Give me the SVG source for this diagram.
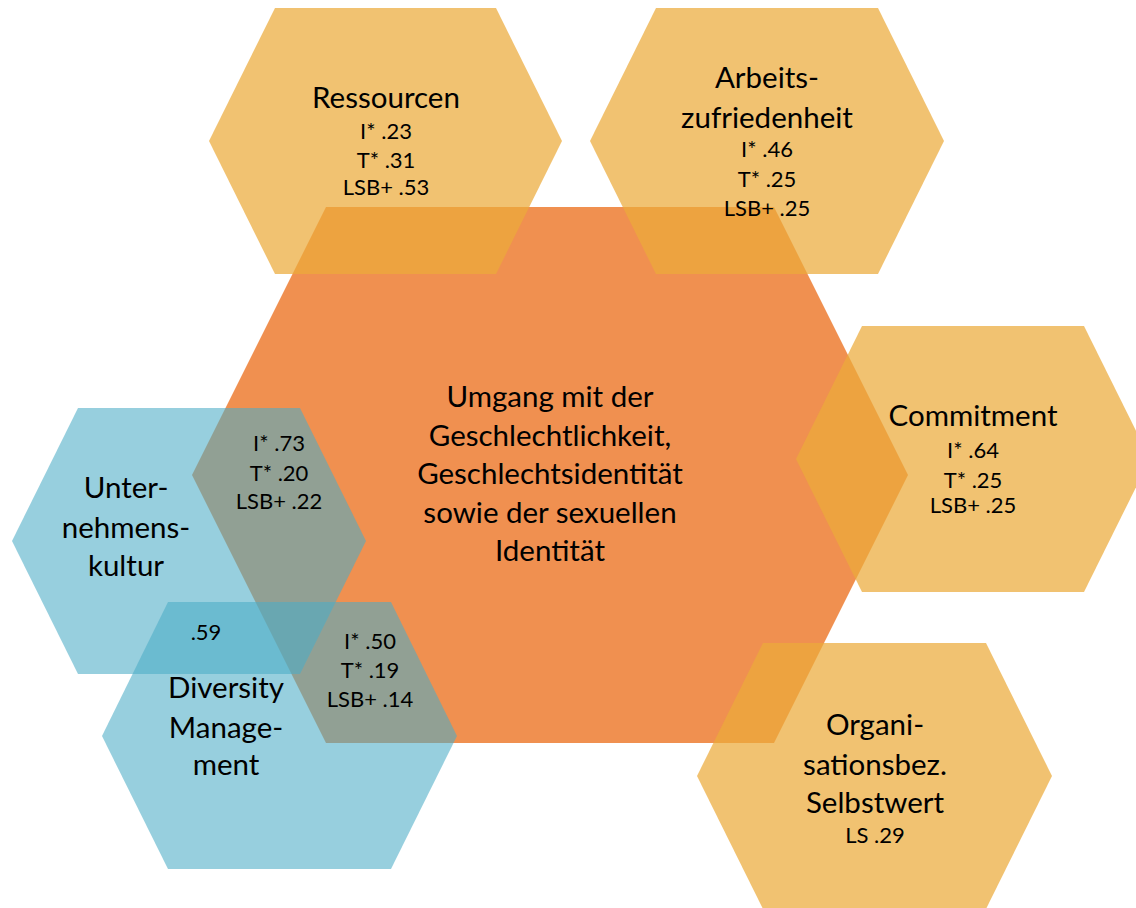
<svg xmlns="http://www.w3.org/2000/svg" width="1136" height="908" viewBox="0 0 1136 908">
  <style>
    .core { fill: #ED7D31; fill-opacity: 0.85; }
    .outcome { fill: rgb(236,171,58); fill-opacity: 0.72; }
    .context { fill: #4BACC6; fill-opacity: 0.58; }
    text { font-family: Lato, "Open Sans", "Liberation Sans", sans-serif; fill: #000; text-anchor: middle; }
    .big { font-size: 29.5px; }
    .small { font-size: 22px; }
  </style>
  <rect width="1136" height="908" fill="#fff"/>

  <g id="node-umgang">
    <polygon class="core" points="192,475 326,207 774,207 908,475 774,743 326,743"/>
    <text class="big" x="550" y="407">Umgang mit der</text>
    <text class="big" x="550" y="446">Geschlechtlichkeit,</text>
    <text class="big" x="550" y="484">Geschlechtsidentität</text>
    <text class="big" x="550" y="523">sowie der sexuellen</text>
    <text class="big" x="550" y="561">Identität</text>
  </g>

  <g id="node-ressourcen">
    <polygon class="outcome" points="209,141 275,8 496,8 562,141 496,274 275,274"/>
    <text class="big" x="386" y="108">Ressourcen</text>
    <text class="small" x="386" y="139">I* .23</text>
    <text class="small" x="386" y="168">T* .31</text>
    <text class="small" x="386" y="195">LSB+ .53</text>
  </g>

  <g id="node-arbeitszufriedenheit">
    <polygon class="outcome" points="590,141 656,8 878,8 944,141 878,274 656,274"/>
    <text class="big" x="767" y="88">Arbeits-</text>
    <text class="big" x="767" y="128">zufriedenheit</text>
    <text class="small" x="767" y="157">I* .46</text>
    <text class="small" x="767" y="187">T* .25</text>
    <text class="small" x="767" y="216">LSB+ .25</text>
  </g>

  <g id="node-commitment">
    <polygon class="outcome" points="796,459 862,326 1084,326 1150,459 1084,592 862,592"/>
    <text class="big" x="973" y="426">Commitment</text>
    <text class="small" x="973" y="458">I* .64</text>
    <text class="small" x="973" y="488">T* .25</text>
    <text class="small" x="973" y="513">LSB+ .25</text>
  </g>

  <g id="node-selbstwert">
    <polygon class="outcome" points="697,776 763,643 986,643 1052,776 986,909 763,909"/>
    <text class="big" x="875" y="735">Organi-</text>
    <text class="big" x="875" y="775">sationsbez.</text>
    <text class="big" x="875" y="813">Selbstwert</text>
    <text class="small" x="875" y="843">LS .29</text>
  </g>

  <g id="node-unternehmenskultur">
    <polygon class="context" points="12,541 78,408 300,408 366,541 300,674 78,674"/>
    <text class="big" x="126" y="498">Unter-</text>
    <text class="big" x="126" y="538">nehmens-</text>
    <text class="big" x="126" y="576">kultur</text>
    <text class="small" x="279" y="451">I* .73</text>
    <text class="small" x="279" y="481">T* .20</text>
    <text class="small" x="279" y="509">LSB+ .22</text>
  </g>

  <g id="node-diversity">
    <polygon class="context" points="102,736 168,602 391,602 457,736 391,869 168,869"/>
    <text class="small" x="206" y="640">.59</text>
    <text class="big" x="226" y="698">Diversity</text>
    <text class="big" x="226" y="738">Manage-</text>
    <text class="big" x="226" y="775">ment</text>
    <text class="small" x="370" y="649">I* .50</text>
    <text class="small" x="370" y="678">T* .19</text>
    <text class="small" x="370" y="707">LSB+ .14</text>
  </g>

  <g id="connectors"/>
</svg>
